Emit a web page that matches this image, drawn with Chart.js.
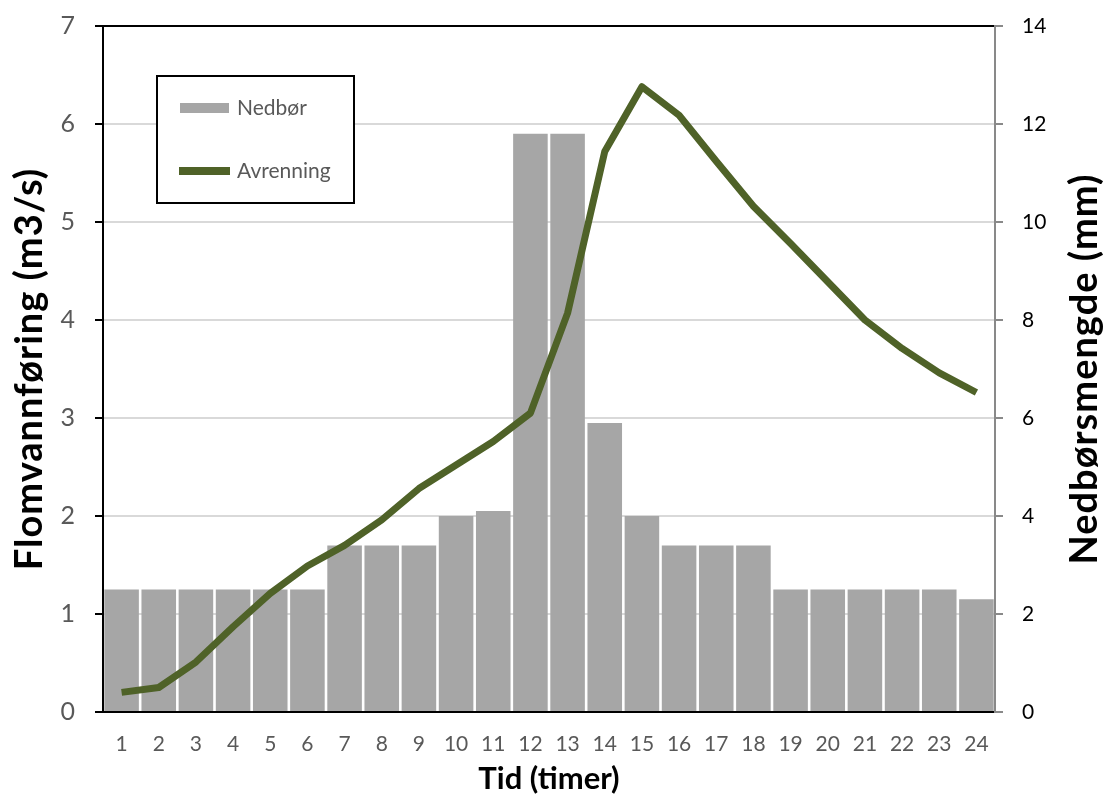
<!DOCTYPE html>
<html>
<head>
<meta charset="utf-8">
<script src="https://cdn.jsdelivr.net/npm/chart.js@4.4.1/dist/chart.umd.min.js"></script>
<style>
html,body{margin:0;padding:0;background:#fff;}
#wrap{position:relative;width:1105px;height:798px;}
</style>
</head>
<body>
<div id="wrap"><canvas id="c"></canvas></div>
<script>
const hours = ['1','2','3','4','5','6','7','8','9','10','11','12','13','14','15','16','17','18','19','20','21','22','23','24'];
const nedbor = [2.5,2.5,2.5,2.5,2.5,2.5,3.4,3.4,3.4,4.0,4.1,11.8,11.8,5.9,4.0,3.4,3.4,3.4,2.5,2.5,2.5,2.5,2.5,2.3];
const avrenning = [0.20,0.25,0.51,0.87,1.21,1.49,1.70,1.96,2.28,2.52,2.76,3.05,4.07,5.72,6.38,6.09,5.62,5.16,4.78,4.39,4.00,3.71,3.46,3.26];
const leftTicks = [0,1,2,3,4,5,6,7];
const rightTicks = [0,2,4,6,8,10,12,14];
const leftTitle = 'Flomvannføring (m3/s)';
const rightTitle = 'Nedbørsmengde (mm)';

const FONT = 'Lato, "Open Sans", sans-serif';

function drawVTitle(ctx, text, x, y) {
  ctx.save();
  ctx.font = 'bold 38px ' + FONT;
  try { ctx.letterSpacing = '1px'; } catch (e) {}
  ctx.fillStyle = '#000';
  ctx.textAlign = 'center';
  ctx.textBaseline = 'middle';
  ctx.translate(x, y);
  ctx.rotate(-Math.PI / 2);
  ctx.fillText(text, 0, 0);
  ctx.restore();
}

const extrasPlugin = {
  id: 'extras',
  afterDraw(chart) {
    const ctx = chart.ctx;
    const ds = chart.data.datasets;
    const area = chart.chartArea;
    const cy = (area.top + area.bottom) / 2;
    drawVTitle(ctx, leftTitle, 30, cy);
    drawVTitle(ctx, rightTitle, 1085, cy);

    ctx.save();
    ctx.fillStyle = '#fff';
    ctx.fillRect(157, 76, 197, 127);
    ctx.strokeStyle = '#000';
    ctx.lineWidth = 2;
    ctx.strokeRect(157, 76, 197, 127);
    ctx.font = '21px ' + FONT;
    ctx.textBaseline = 'middle';
    ctx.textAlign = 'left';
    ctx.fillStyle = ds[1].backgroundColor;
    ctx.fillRect(180, 103, 49, 10);
    ctx.fillStyle = '#595959';
    ctx.fillText(ds[1].label, 237, 108);
    ctx.strokeStyle = ds[0].borderColor;
    ctx.lineWidth = 8;
    ctx.beginPath();
    ctx.moveTo(179, 171);
    ctx.lineTo(230, 171);
    ctx.stroke();
    ctx.fillText(ds[0].label, 237, 171);
    ctx.restore();
  }
};

function fixV(width) {
  return function (s) {
    s.width = width;
    s.paddingTop = 12;
    s.paddingBottom = 12;
  };
}

new Chart(document.getElementById('c'), {
  data: {
    labels: hours,
    datasets: [
      {
        type: 'line',
        label: 'Avrenning',
        data: avrenning,
        yAxisID: 'y',
        borderColor: '#4f6228',
        backgroundColor: '#4f6228',
        borderWidth: 7,
        pointRadius: 0,
        tension: 0,
        borderJoinStyle: 'round',
        order: 0
      },
      {
        type: 'bar',
        label: 'Nedbør',
        data: nedbor,
        yAxisID: 'y1',
        backgroundColor: '#a6a6a6',
        borderWidth: 0,
        barPercentage: 0.93,
        categoryPercentage: 1.0,
        order: 1
      }
    ]
  },
  options: {
    responsive: true,
    maintainAspectRatio: false,
    animation: false,
    devicePixelRatio: 1,
    layout: { padding: { top: 26, left: 0, right: 0, bottom: 0 } },
    plugins: { legend: { display: false }, tooltip: { enabled: false } },
    scales: {
      x: {
        type: 'category',
        grid: { display: false, drawTicks: false },
        border: { color: '#000', width: 2 },
        ticks: { color: '#595959', font: { family: FONT, size: 21 }, padding: 20, maxRotation: 0 },
        title: { display: true, text: 'Tid (timer)', color: '#000', font: { family: FONT, size: 31, weight: 'bold' }, padding: { top: 0, bottom: 0 } },
        afterFit(s) { s.height = 86; }
      },
      y: {
        position: 'left',
        min: 0, max: 7,
        afterBuildTicks(s) { s.ticks = leftTicks.map(v => ({ value: v })); },
        grid: {
          color: (c) => (c.tick && c.tick.value === 7) ? '#000' : '#d9d9d9',
          lineWidth: 2,
          tickColor: '#000',
          tickLength: 8
        },
        border: { color: '#000', width: 2 },
        ticks: { color: '#595959', font: { family: FONT, size: 25 }, padding: 20 },
        title: { display: false },
        afterFit: fixV(103)
      },
      y1: {
        position: 'right',
        min: 0, max: 14,
        afterBuildTicks(s) { s.ticks = rightTicks.map(v => ({ value: v })); },
        grid: { drawOnChartArea: false, tickColor: '#898989', tickLength: 8, lineWidth: 2 },
        border: { color: '#898989', width: 2 },
        ticks: { color: '#000', font: { family: FONT, size: 21 }, padding: 19 },
        title: { display: false },
        afterFit: fixV(110)
      }
    }
  },
  plugins: [extrasPlugin]
});
</script>
</body>
</html>
